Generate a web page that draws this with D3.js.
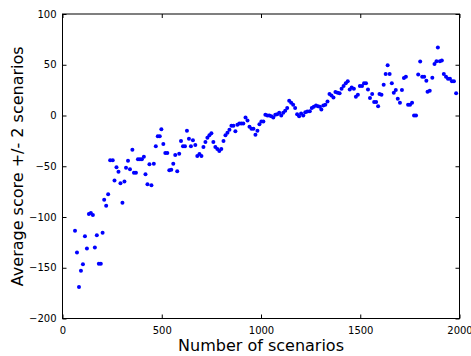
<!DOCTYPE html>
<html>
<head>
<meta charset="utf-8">
<script src="https://cdn.jsdelivr.net/npm/d3@7/dist/d3.min.js"></script>
<style>
  html, body { margin: 0; padding: 0; background: #fff; }
  svg { display: block; }
  text { font-family: "DejaVu Sans", sans-serif; fill: #000; }
</style>
</head>
<body>
<svg id="chart" width="471" height="356"></svg>
<script>
// ---- data ----
const scenarios = [63,73,83,93,103,113,123,133,143,153,163,173,183,193,202,210,220,230,240,253,
  262,272,282,292,302,312,320,330,340,352,360,370,380,390,400,410,418,428,438,448,
  460,470,480,490,498,508,518,528,538,548,558,568,578,588,597,607,617,627,637,647,
  657,669,679,690,700,710,720,730,740,750,760,770,780,790,800,811,821,831,841,851,
  861,871,881,891,901,911,922,932,942,952,962,972,982,992,1002,1012,1022,1032,1042,1052,
  1062,1072,1082,1092,1102,1112,1122,1132,1142,1152,1162,1172,1182,1192,1202,1213,1223,1233,1246,1256,
  1266,1277,1287,1297,1304,1314,1324,1335,1345,1355,1365,1375,1386,1396,1406,1416,1427,1437,1447,1457,
  1468,1478,1488,1498,1509,1519,1529,1539,1549,1560,1570,1580,1590,1597,1607,1618,1628,1638,1648,1659,
  1669,1679,1689,1700,1710,1720,1730,1741,1751,1761,1771,1781,1792,1802,1812,1822,1833,1839,1850,1863,
  1874,1884,1891,1901,1911,1921,1932,1942,1952,1962,1972,1983];
const avgScore = [-113.5,-135,-169,-153,-146.5,-119,-131,-97,-96,-98,-130,-118,-146,-146,-115.5,-83,-89,-77.5,-44,-44,
  -64,-51,-55.5,-66.7,-86,-65,-51.5,-44.5,-53,-33.7,-56.4,-56.4,-43,-43,-43,-40.6,-57.8,-67.7,-48,-68.6,
  -47.5,-30.4,-20.5,-20.5,-13.5,-28,-37,-37,-54,-53.5,-47.5,-39,-55,-37.6,-25,-30.4,-30.4,-15,-23,-30.4,
  -24.4,-29,-40,-38,-40,-31,-26,-22,-19.5,-17.5,-26,-31,-33,-35,-33,-25,-19.5,-17,-14,-10,
  -10,-15.5,-9,-8,-8,-8,-2,-5,-11,-13,-13,-19,-15,-8.6,-6,-6,0.7,0,0,-0.7,
  -2,0.7,1.3,2.6,0,2.6,4.6,7.3,14.5,12.5,10.5,7.3,1.3,-0.7,2,0,3.3,4,4.3,7.3,
  8.6,9.9,9.2,8.6,5.9,9.9,10.6,13.9,21.1,19.8,17.8,23.1,22.4,21.8,26.4,29,31.7,33.7,25.7,27.7,
  26.4,18.5,20.5,29,29,31.7,31.7,25.7,17.2,21.1,13.2,13.2,9.2,21.1,20.5,30.4,40.9,49.5,40.9,31.7,
  22.4,25.1,16.5,12.5,25.1,37,38.3,10.6,10.6,12.5,0,0,40.3,53.1,38.3,38.3,34.3,23.4,24.4,37.3,
  50.8,53.5,67,53.5,54.1,40.9,38.3,36.3,36.3,33.7,33.7,21.8];
const xTicks = [0, 500, 1000, 1500, 2000];
const yTicks = [-200, -150, -100, -50, 0, 50, 100];
const xLabel = "Number of scenarios";
const yLabel = "Average score +/- 2 scenarios";

// ---- layout ----
const L = 62.5, R = 459.5, T = 14, B = 318.5;
const svg = d3.select("#chart");
const x = d3.scaleLinear().domain([0, 2000]).range([L, R]);
const y = d3.scaleLinear().domain([-200, 100]).range([B, T]);

// points
svg.append("g").selectAll("circle")
  .data(scenarios.map((s, i) => [s, avgScore[i]]))
  .join("circle")
  .attr("cx", d => x(d[0]))
  .attr("cy", d => y(d[1]))
  .attr("r", 2)
  .attr("fill", "#0000ff");

// axes (ticks inward on all sides)
function styleAxis(g) {
  g.select(".domain").remove();
  g.selectAll(".tick line").attr("stroke", "#000").attr("stroke-width", 1);
  g.selectAll(".tick text").attr("font-family", "DejaVu Sans, sans-serif").attr("font-size", 10).attr("fill", "#000");
}
svg.append("g").attr("transform", `translate(0,${B})`)
  .call(d3.axisBottom(x).tickValues(xTicks).tickSize(-4).tickPadding(8).tickFormat(d3.format("d")))
  .call(styleAxis);
svg.append("g").attr("transform", `translate(0,${T})`)
  .call(d3.axisTop(x).tickValues(xTicks).tickSize(-4).tickFormat(""))
  .call(styleAxis);
svg.append("g").attr("transform", `translate(${L},0)`)
  .call(d3.axisLeft(y).tickValues(yTicks).tickSize(-4).tickPadding(6).tickFormat(d3.format("d")))
  .call(styleAxis);
svg.append("g").attr("transform", `translate(${R},0)`)
  .call(d3.axisRight(y).tickValues(yTicks).tickSize(-4).tickFormat(""))
  .call(styleAxis);

// frame
svg.append("rect")
  .attr("x", L).attr("y", T).attr("width", R - L).attr("height", B - T)
  .attr("fill", "none").attr("stroke", "#000").attr("stroke-width", 1);

// labels
svg.append("text")
  .attr("x", (L + R) / 2).attr("y", 351)
  .attr("text-anchor", "middle").attr("font-size", 16)
  .text(xLabel);
svg.append("text")
  .attr("transform", `translate(23,${(T + B) / 2}) rotate(-90)`)
  .attr("text-anchor", "middle").attr("font-size", 16)
  .text(yLabel);
</script>
</body>
</html>
